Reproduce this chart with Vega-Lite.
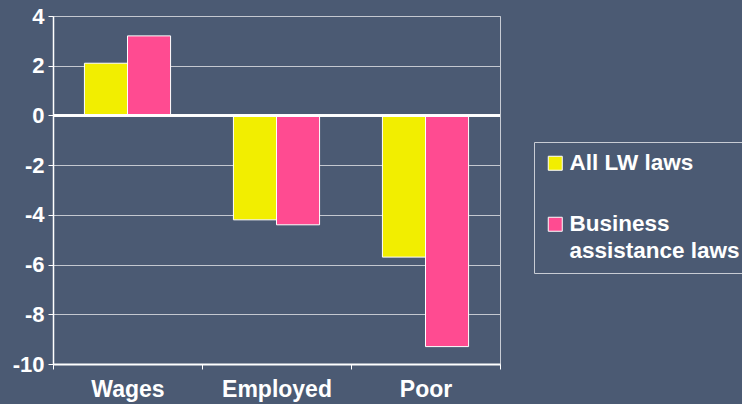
{
  "$schema": "https://vega.github.io/schema/vega-lite/v6.json",
  "width": 447,
  "height": 348,
  "autosize": {"type": "none"},
  "padding": {"left": 53, "top": 16, "right": 242, "bottom": 40},
  "background": "#4B5A73",
  "config": {
    "view": {"stroke": "#c8ccd4", "strokeWidth": 1},
    "font": "Liberation Sans"
  },
  "data": {
    "values": [
      {"measure": "Wages", "law": "All LW laws", "value": 2.1},
      {"measure": "Wages", "law": "Business assistance laws", "value": 3.2},
      {"measure": "Employed", "law": "All LW laws", "value": -4.2},
      {"measure": "Employed", "law": "Business assistance laws", "value": -4.4},
      {"measure": "Poor", "law": "All LW laws", "value": -5.7},
      {"measure": "Poor", "law": "Business assistance laws", "value": -9.3}
    ]
  },
  "layer": [
    {
      "mark": {"type": "bar", "stroke": "#ffffff", "strokeWidth": 1},
      "encoding": {
        "x": {
          "field": "measure",
          "type": "nominal",
          "sort": ["Wages", "Employed", "Poor"],
          "scale": {"paddingInner": 0, "paddingOuter": 0},
          "axis": {
            "title": null,
            "labelAngle": 0,
            "labelFontSize": 23,
            "labelFontWeight": "bold",
            "labelColor": "#ffffff",
            "labelPadding": 9,
            "domainColor": "#ffffff",
            "domainWidth": 2,
            "tickColor": "#ffffff",
            "tickSize": 5,
            "tickBand": "extent",
            "grid": false
          }
        },
        "xOffset": {
          "field": "law",
          "type": "nominal",
          "sort": ["All LW laws", "Business assistance laws"],
          "scale": {"paddingInner": 0, "paddingOuter": 0.73}
        },
        "y": {
          "field": "value",
          "type": "quantitative",
          "scale": {"domain": [-10, 4], "nice": false, "zero": false},
          "axis": {
            "title": null,
            "values": [4, 2, 0, -2, -4, -6, -8, -10],
            "labelExpr": "toString(datum.value)",
            "labelFontSize": 22,
            "labelFontWeight": "bold",
            "labelColor": "#ffffff",
            "labelPadding": 4,
            "domainColor": "#ffffff",
            "domainWidth": 1.5,
            "tickColor": "#ffffff",
            "tickSize": 5,
            "grid": true,
            "gridColor": "#c4c8d0",
            "gridWidth": 1
          }
        },
        "color": {
          "field": "law",
          "type": "nominal",
          "sort": ["All LW laws", "Business assistance laws"],
          "scale": {"range": ["#F2EE00", "#FF4B91"]},
          "legend": {
            "title": null,
            "orient": "none",
            "legendX": 481,
            "legendY": 126,
            "strokeColor": "#c8ccd4",
            "padding": 10,
            "symbolType": "square",
            "symbolSize": 196,
            "symbolStrokeColor": "#ffffff",
            "symbolStrokeWidth": 1,
            "symbolOpacity": 1,
            "labelFontSize": 22.5,
            "labelFontWeight": "bold",
            "labelColor": "#ffffff",
            "labelLimit": 0,
            "labelOffset": 3,
            "rowPadding": 38,
            "labelExpr": "datum.label == 'Business assistance laws' ? ['Business', 'assistance laws'] : datum.label",
            "encode": {"labels": {"update": {"lineHeight": {"value": 27}}}}
          }
        }
      }
    },
    {
      "mark": {"type": "rule", "color": "#ffffff", "strokeWidth": 2},
      "encoding": {"y": {"datum": 0}}
    }
  ]
}
